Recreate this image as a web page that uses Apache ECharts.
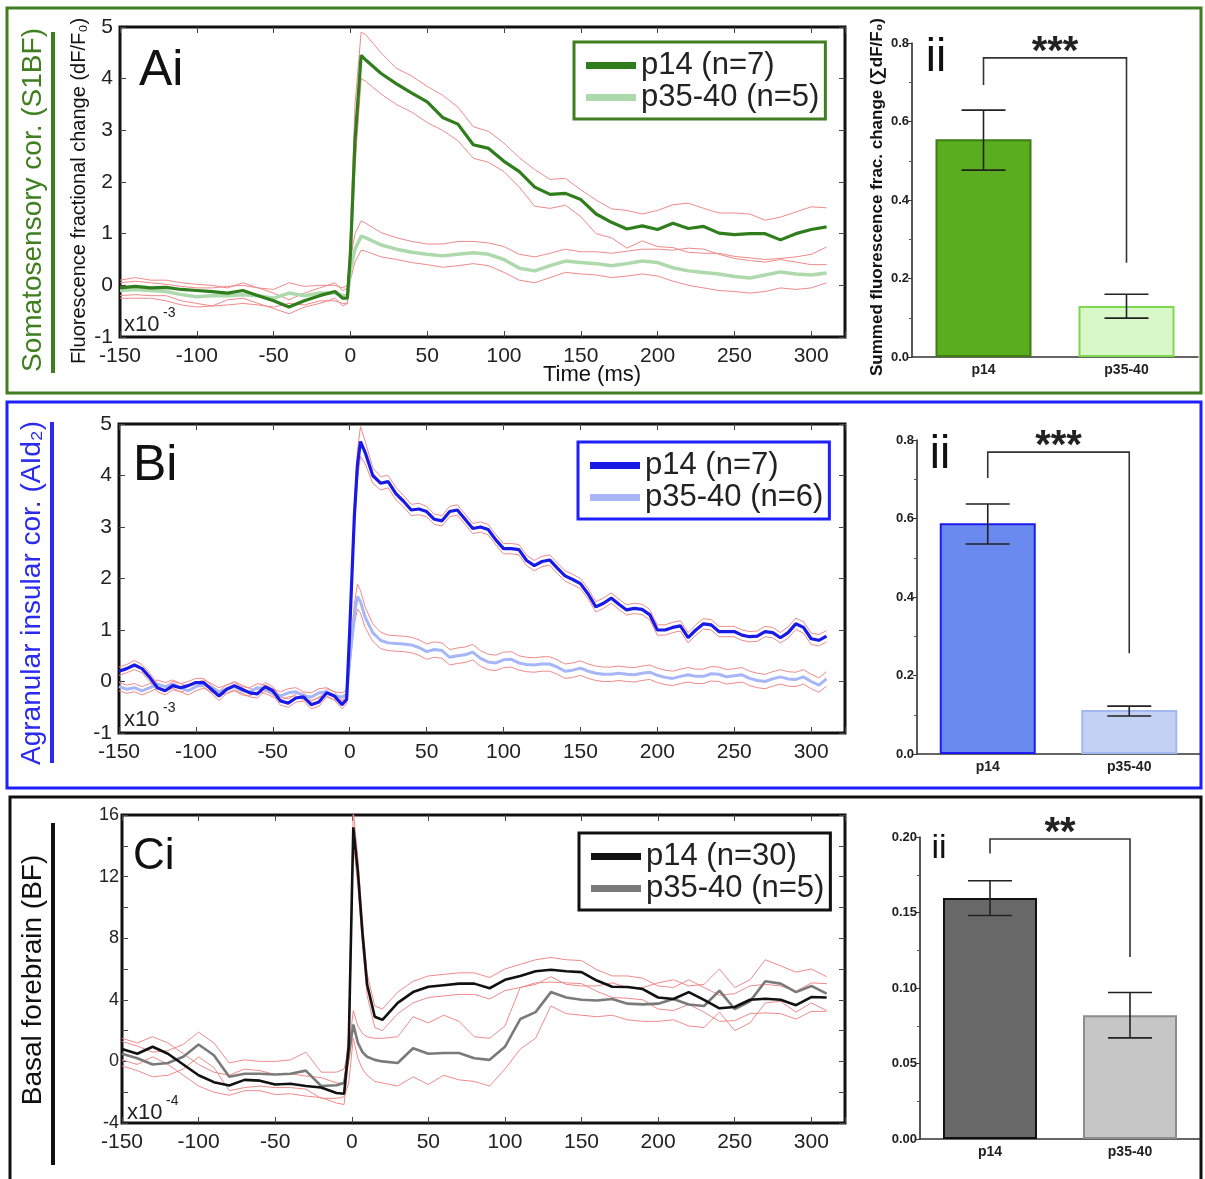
<!DOCTYPE html>
<html>
<head>
<meta charset="utf-8">
<script src="https://cdn.jsdelivr.net/npm/echarts@6.0.0/dist/echarts.min.js"></script>
<style>
html, body { margin: 0; padding: 0; background: #fff; }
#chart { width: 1205px; height: 1179px; }
</style>
</head>
<body>
<div id="chart"></div>
<script>
// ---- panel A (S1BF), sample times in ms ----
const tA = [-150,-140,-130,-120,-110,-100,-90,-80,-70,-60,-50,-40,-30,-20,-10,-5,-2,0,3,7,
  10,20,30,40,50,60,70,80,90,100,110,120,130,140,150,160,170,180,190,200,210,220,230,240,250,260,270,280,290,300,310];
const a14 = [-0.05,-0.02,-0.05,-0.04,-0.08,-0.1,-0.12,-0.15,-0.1,-0.2,-0.3,-0.42,-0.3,-0.2,-0.12,-0.25,-0.25,0.6,2.8,4.45,
  4.36,4.1,3.9,3.72,3.55,3.25,3.12,2.72,2.65,2.4,2.2,1.9,1.76,1.78,1.66,1.38,1.22,1.09,1.15,1.08,1.2,1.1,1.14,1.01,0.98,1.0,1.0,0.88,1.0,1.08,1.13];
const a14Hi = [0.1,0.15,0.1,0.1,0.05,0.02,0.0,-0.05,0.05,-0.05,-0.15,-0.28,-0.15,-0.05,0.05,-0.1,-0.05,1.0,3.5,4.9,
  4.85,4.5,4.2,4.05,3.85,3.68,3.45,3.07,2.98,2.75,2.47,2.24,2.05,2.07,1.85,1.65,1.48,1.45,1.38,1.45,1.56,1.59,1.49,1.4,1.4,1.38,1.26,1.32,1.42,1.52,1.5];
const a14Lo = [-0.2,-0.18,-0.2,-0.2,-0.3,-0.35,-0.4,-0.28,-0.25,-0.35,-0.45,-0.55,-0.42,-0.35,-0.25,-0.4,-0.35,0.3,2.3,4.0,
  3.95,3.7,3.5,3.35,3.15,3.0,2.8,2.46,2.38,2.2,1.9,1.53,1.49,1.55,1.33,1.0,0.92,0.72,0.86,0.75,0.73,0.64,0.62,0.62,0.56,0.53,0.5,0.52,0.55,0.6,0.74];
const a35 = [-0.1,-0.08,-0.1,-0.12,-0.18,-0.22,-0.2,-0.2,-0.18,-0.2,-0.25,-0.15,-0.2,-0.15,-0.15,-0.2,-0.2,0.3,0.7,0.95,
  0.92,0.78,0.7,0.64,0.6,0.57,0.6,0.63,0.6,0.5,0.33,0.28,0.38,0.47,0.44,0.42,0.38,0.42,0.47,0.44,0.34,0.28,0.25,0.22,0.17,0.14,0.2,0.26,0.22,0.2,0.24];
const a35Hi = [0.05,0.08,0.05,0.02,-0.02,-0.05,-0.05,-0.02,0.0,-0.05,-0.08,0.05,-0.02,0.0,0.0,-0.05,0.0,0.5,1.0,1.25,
  1.2,1.02,0.92,0.85,0.8,0.8,0.85,0.85,0.82,0.75,0.6,0.55,0.62,0.7,0.65,0.65,0.62,0.66,0.7,0.7,0.68,0.72,0.7,0.6,0.52,0.48,0.45,0.5,0.45,0.4,0.4];
const a35Lo = [-0.25,-0.25,-0.25,-0.3,-0.38,-0.42,-0.4,-0.38,-0.35,-0.38,-0.42,-0.35,-0.38,-0.3,-0.3,-0.35,-0.35,0.1,0.45,0.68,
  0.66,0.55,0.5,0.44,0.4,0.35,0.38,0.42,0.38,0.25,0.1,0.05,0.15,0.25,0.22,0.2,0.15,0.18,0.22,0.18,0.08,0.0,-0.05,-0.1,-0.12,-0.15,-0.12,-0.05,-0.08,-0.05,0.05];

// ---- panel B (AId2) ----
const tB = [-150,-145,-140,-135,-130,-125,-120,-115,-110,-105,-100,-95,-90,-85,-80,-75,-70,-65,-60,-55,-50,-45,-40,-35,-30,-25,-20,-15,-10,-5,
  -2,0,3,5,7,
  10,15,20,25,30,35,40,45,50,55,60,65,70,75,80,85,90,95,100,105,110,115,120,125,130,135,140,145,150,155,
  160,165,170,175,180,185,190,195,200,205,210,215,220,225,230,235,240,245,250,255,260,265,270,275,280,285,290,295,300,305,310];
const b14 = [0.2,0.25,0.32,0.25,0.08,-0.12,-0.18,-0.08,-0.12,-0.08,-0.02,-0.02,-0.15,-0.28,-0.15,-0.08,-0.15,-0.22,-0.24,-0.1,-0.18,-0.38,-0.42,-0.32,-0.3,-0.45,-0.4,-0.22,-0.28,-0.45,
  -0.35,1.0,3.2,4.2,4.66,
  4.45,4.0,3.85,3.88,3.65,3.5,3.33,3.35,3.3,3.15, 3.12,3.3,3.33,3.15,2.97,3.0,2.95,2.75,2.58,2.58,
  2.56,2.35,2.25,2.33,2.36,2.2,2.05,1.98,1.9,1.7, 1.45,1.52,1.62,1.5,1.39,1.42,1.4,1.3,1.0,1.0,
  1.05,1.08,0.85,1.0,1.12,1.1,0.97,0.97,0.97,0.9, 0.87,0.88,0.97,0.95,0.85,0.95,1.12,1.05,0.83,0.8, 0.88];
const b14Sem = [0.08,0.08,0.09,0.08,0.08,0.08,0.08,0.08,0.08,0.08,0.08,0.08,0.08,0.09,0.08,0.08,0.08,0.08,0.08,0.08,0.08,0.08,0.08,0.08,0.08,0.08,0.08,0.08,0.08,0.08,
  0.08,0.15,0.22,0.28,0.29,
  0.22,0.15,0.13,0.12,0.12,0.11,0.11,0.11,0.1,0.1, 0.1,0.1,0.1,0.1,0.1,0.1,0.1,0.1,0.1,0.1,
  0.1,0.1,0.1,0.1,0.1,0.1,0.1,0.1,0.1,0.1, 0.1,0.1,0.1,0.1,0.1,0.1,0.1,0.1,0.1,0.1,
  0.1,0.1,0.1,0.1,0.1,0.1,0.1,0.1,0.1,0.1, 0.1,0.1,0.1,0.1,0.1,0.11,0.11,0.11,0.11,0.11, 0.11];
const b35 = [-0.1,-0.15,-0.12,-0.18,-0.12,-0.05,-0.1,-0.05,-0.12,-0.18,-0.1,-0.05,-0.12,-0.2,-0.15,-0.1,-0.18,-0.2,-0.12,-0.15,-0.22,-0.28,-0.22,-0.2,-0.28,-0.3,-0.22,-0.2,-0.28,-0.3,
  -0.25,0.4,1.3,1.65,1.55,
  1.25,0.95,0.8,0.75,0.74,0.73,0.71,0.66,0.58,0.62, 0.6,0.47,0.5,0.52,0.57,0.45,0.38,0.36,0.42,0.43,
  0.36,0.33,0.32,0.34,0.34,0.28,0.2,0.22,0.26,0.2, 0.16,0.14,0.14,0.16,0.14,0.13,0.16,0.18,0.12,0.08,
  0.06,0.1,0.13,0.1,0.1,0.15,0.14,0.09,0.11,0.13, 0.06,0.02,0.0,0.05,0.09,0.05,0.04,0.09,0.0,-0.07, 0.05];
const b35Sem = [0.08,0.08,0.08,0.08,0.08,0.08,0.08,0.08,0.08,0.08,0.08,0.08,0.08,0.08,0.08,0.08,0.08,0.08,0.08,0.08,0.08,0.08,0.08,0.08,0.08,0.08,0.08,0.08,0.08,0.08,
  0.08,0.1,0.2,0.24,0.22,
  0.2,0.17,0.16,0.15,0.15,0.15,0.15,0.15,0.15,0.15, 0.15,0.15,0.15,0.15,0.15,0.15,0.15,0.15,0.15,0.15,
  0.14,0.14,0.14,0.14,0.14,0.14,0.14,0.14,0.14,0.14, 0.14,0.14,0.14,0.14,0.14,0.14,0.14,0.14,0.14,0.14,
  0.14,0.14,0.14,0.14,0.14,0.14,0.14,0.14,0.14,0.14, 0.14,0.14,0.14,0.14,0.14,0.14,0.14,0.14,0.14,0.14, 0.14];

// ---- panel C (BF) ----
const tC = [-150,-140,-130,-120,-110,-100,-90,-80,-70,-60,-50,-40,-30,-20,-10,-5,-2,1,4,7,10,15,
  20,30,40,50,60,70,80,90,100,110,120,130,140,150,160,170,180,190,200,210,220,230,240,250,260,270,280,290,300,310];
const c14 = [0.8,0.5,0.95,0.5,-0.2,-0.9,-1.35,-1.56,-1.2,-1.25,-1.5,-1.45,-1.6,-1.7,-2.05,-2.1,1.0,15.2,12.3,8.3,5.0,2.9,
  2.7,3.8,4.5,4.85,4.95,5.05,5.05,4.75,5.3,5.55,5.85,5.95,5.85,5.8,5.25,4.85,4.83,4.7,4.15,4.05,4.5,4.0,3.45,3.53,4.0,4.07,4.0,3.65,4.18,4.15];
const c14Hi = [1.5,1.2,1.6,1.2,0.5,-0.2,-0.7,-0.9,-0.5,-0.6,-0.85,-0.8,-0.95,-1.05,-1.4,-1.4,1.8,16.3,13.2,9.1,5.7,3.6,
  3.4,4.5,5.2,5.55,5.65,5.75,5.75,5.45,6.0,6.3,6.6,6.75,6.6,6.55,5.95,5.55,5.55,5.4,4.9,4.8,5.3,4.8,4.3,4.4,4.9,5.0,4.9,4.55,5.1,5.05];
const c14Lo = [0.1,-0.2,0.3,-0.2,-0.9,-1.6,-2.0,-2.2,-1.9,-1.9,-2.15,-2.1,-2.25,-2.35,-2.7,-2.8,0.2,14.2,11.4,7.5,4.3,2.2,
  2.0,3.1,3.8,4.15,4.25,4.35,4.35,4.05,4.6,4.8,5.1,5.15,5.1,5.05,4.55,4.15,4.1,4.0,3.4,3.3,3.7,3.2,2.6,2.65,3.1,3.15,3.1,2.75,3.25,3.25];
const c35 = [0.5,0.2,-0.2,-0.1,0.3,1.1,0.4,-1.0,-0.8,-0.8,-0.85,-0.8,-0.6,-1.6,-1.55,-1.4,0.3,2.4,1.2,0.6,0.3,0.1,
  0.0,-0.1,0.85,0.5,0.55,0.55,0.2,0.1,0.95,2.75,3.2,4.5,4.15,4.0,3.95,4.05,3.75,3.7,3.75,4.05,3.7,3.6,4.6,3.4,3.9,5.2,5.05,4.5,4.9,4.4];
const c35Hi = [1.3,1.0,0.6,0.7,1.1,1.9,1.2,-0.1,0.1,0.0,0.0,0.1,0.6,-0.7,-0.7,-0.5,0.8,3.3,2.3,1.8,1.6,1.5,
  1.5,1.6,2.9,2.5,3.0,2.6,1.6,1.5,2.3,4.8,5.0,5.5,5.0,4.9,4.9,5.1,4.8,4.8,5.1,5.3,4.9,5.0,6.0,4.8,5.3,6.6,6.2,5.8,6.0,5.5];
const c35Lo = [-0.3,-0.6,-1.0,-0.9,-0.5,0.3,-0.4,-1.9,-1.7,-1.6,-1.7,-1.7,-1.8,-2.4,-2.4,-2.3,-1.4,1.5,0.2,-0.5,-0.9,-1.3,
  -1.4,-1.6,-1.0,-1.5,-0.9,-1.2,-1.3,-1.6,-0.5,0.8,1.5,3.6,3.1,3.0,2.9,3.0,2.7,2.6,2.6,2.7,2.3,2.2,3.2,2.0,2.5,3.8,3.9,3.2,3.8,3.3];

// ---- bar panels (ii) ----
const groups = ['p14', 'p35-40'];
const barA = [0.555, 0.130], errLoA = [0.476, 0.099], errHiA = [0.629, 0.160];
const barB = [0.588, 0.112], errLoB = [0.535, 0.097], errHiB = [0.637, 0.122];
const barC = [0.1596, 0.082], errLoC = [0.148, 0.067], errHiC = [0.171, 0.097];
// significance brackets: left foot, top, right foot
const brkA = [0.693, 0.762, 0.24], brkB = [0.703, 0.769, 0.257], brkC = [0.189, 0.1987, 0.1205];
const starsA = '***', starsB = '***', starsC = '**';

const legendText = {
  a14: 'p14 (n=7)', a35: 'p35-40 (n=5)',
  b14: 'p14 (n=7)', b35: 'p35-40 (n=6)',
  c14: 'p14 (n=30)', c35: 'p35-40 (n=5)'
};

const FONT = '"Liberation Sans", Arial, sans-serif';
const NARROW = '"Liberation Sans Narrow", "Liberation Sans", Arial, sans-serif';

function pairs(t, v) { return t.map((x, i) => [x, v[i]]); }
function plusSem(v, s, k) { return v.map((x, i) => +(x + k * s[i]).toFixed(3)); }

function line(name, ax, t, v, color, width, z) {
  return {
    type: 'line', name: name, xAxisIndex: ax, yAxisIndex: ax,
    data: pairs(t, v), showSymbol: false, symbol: 'none', silent: true, z: z,
    lineStyle: { color: color, width: width }, itemStyle: { color: color }
  };
}

function lineAxes(gi, ymin, ymax, yint, every, yFont, yMargin, xMargin) {
  const tick = { inside: true, length: 6, lineStyle: { color: '#444', width: 1 } };
  const xb = {
    type: 'value', gridIndex: gi, min: -150, max: 322, interval: 50, position: 'bottom',
    axisLine: { show: false, onZero: false }, axisTick: tick, splitLine: { show: false },
    axisLabel: { fontSize: 21, color: '#222', fontFamily: FONT, margin: xMargin,
      formatter: v => (v % 50 === 0 ? String(v) : '') }
  };
  const xt = Object.assign({}, xb, { position: 'top', axisLabel: { show: false } });
  const yl = {
    type: 'value', gridIndex: gi, min: ymin, max: ymax, interval: yint, position: 'left',
    axisLine: { show: false, onZero: false }, axisTick: tick, splitLine: { show: false },
    axisLabel: { fontSize: yFont, color: '#222', fontFamily: FONT, margin: yMargin,
      formatter: v => (v % every === 0 ? String(v) : '') }
  };
  const yr = Object.assign({}, yl, { position: 'right', axisLabel: { show: false } });
  return { x: [xb, xt], y: [yl, yr] };
}

function barAxes(gi, max, step, digits) {
  return {
    x: {
      type: 'category', gridIndex: gi, data: groups,
      axisLine: { onZero: false, lineStyle: { color: '#333', width: 1.5 } },
      axisTick: { alignWithLabel: true, length: 4, lineStyle: { color: '#333' } },
      axisLabel: { fontSize: 14, fontWeight: 'bold', color: '#222', fontFamily: NARROW, margin: 6 }
    },
    y: {
      type: 'value', gridIndex: gi, min: 0, max: max, interval: step,
      axisLine: { show: true, onZero: false, lineStyle: { color: '#222', width: 1.5 } },
      axisTick: { show: true, length: 4, lineStyle: { color: '#333' } },
      minorTick: { show: true, splitNumber: 2, length: 3, lineStyle: { color: '#555' } },
      splitLine: { show: false },
      axisLabel: { fontSize: 13, fontWeight: 'bold', color: '#222', fontFamily: NARROW, margin: 3,
        formatter: v => v.toFixed(digits) }
    }
  };
}

function bars(ax, vals, fills, borders, width) {
  return {
    type: 'bar', xAxisIndex: ax, yAxisIndex: ax, barWidth: width, silent: true,
    data: vals.map((v, i) => ({ value: v, itemStyle: { color: fills[i], borderColor: borders[i], borderWidth: 2 } }))
  };
}

function errBars(ax, lo, hi) {
  return {
    type: 'custom', xAxisIndex: ax, yAxisIndex: ax, silent: true, z: 5,
    data: lo.map((l, i) => [i, l, hi[i]]),
    renderItem: (params, api) => {
      const pLo = api.coord([api.value(0), api.value(1)]);
      const pHi = api.coord([api.value(0), api.value(2)]);
      const hw = 22, st = { stroke: '#222', lineWidth: 1.6 };
      return { type: 'group', children: [
        { type: 'line', shape: { x1: pLo[0], y1: pLo[1], x2: pHi[0], y2: pHi[1] }, style: st },
        { type: 'line', shape: { x1: pHi[0] - hw, y1: pHi[1], x2: pHi[0] + hw, y2: pHi[1] }, style: st },
        { type: 'line', shape: { x1: pLo[0] - hw, y1: pLo[1], x2: pLo[0] + hw, y2: pLo[1] }, style: st }
      ] };
    }
  };
}

function bracket(ax, b, stars) {
  return {
    type: 'custom', xAxisIndex: ax, yAxisIndex: ax, silent: true, z: 5, clip: false,
    data: [[0, b[0], b[1], b[2]]],
    renderItem: (params, api) => {
      const l = api.coord([0, api.value(1)]);
      const tl = api.coord([0, api.value(2)]);
      const tr = api.coord([1, api.value(2)]);
      const r = api.coord([1, api.value(3)]);
      return { type: 'group', children: [
        { type: 'polyline', shape: { points: [l, tl, tr, r] }, style: { stroke: '#333', lineWidth: 1.6, fill: null } },
        { type: 'text', x: (tl[0] + tr[0]) / 2, y: tl[1] - 5,
          style: { text: stars, font: 'bold 40px ' + FONT, fill: '#222', textAlign: 'center', textVerticalAlign: 'middle', align: 'center', verticalAlign: 'middle' } }
      ] };
    }
  };
}

function legendBox(left, top, names, border) {
  return {
    orient: 'vertical', left: left, top: top, data: names, selectedMode: false,
    icon: 'rect', itemWidth: 50, itemHeight: 7, itemGap: 1,
    padding: [8, 6, 6, 12], borderColor: border, borderWidth: 3, backgroundColor: '#fff',
    textStyle: { fontSize: 31, color: '#222', fontFamily: FONT },
    formatter: n => legendText[n]
  };
}

function txt(x, y, text, font, fill, rot, align, valign) {
  const a = align || 'center', va = valign || 'middle';
  return { type: 'text', x: x, y: y, rotation: rot || 0, z: 10,
    style: { text: text, font: font, fill: fill || '#111', textAlign: a, textVerticalAlign: va, align: a, verticalAlign: va } };
}

const axA = lineAxes(0, -1, 5, 1, 1, 21, 7, 9);
const axB = lineAxes(1, -1, 5, 1, 1, 21, 7, 9);
const axC = lineAxes(2, -4, 16, 2, 4, 18, 3, 9);
const bA = barAxes(3, 0.8, 0.2, 1);
const bB = barAxes(4, 0.8, 0.2, 1);
const bC = barAxes(5, 0.2, 0.05, 2);

const BND = '#ef8a8a';

const option = {
  animation: false,
  backgroundColor: '#fff',
  grid: [
    { left: 120, right: 360, top: 27, bottom: 842, show: true, borderColor: '#111', borderWidth: 3 },
    { left: 119, right: 360, top: 424, bottom: 446, show: true, borderColor: '#111', borderWidth: 3 },
    { left: 122, right: 360, top: 815, bottom: 56, show: true, borderColor: '#111', borderWidth: 3 },
    { left: 912, right: 7, top: 43, bottom: 822 },
    { left: 917, right: 5, top: 440, bottom: 425 },
    { left: 920, right: 5, top: 837, bottom: 40 }
  ],
  // axis order: A bottom/top, B bottom/top, C bottom/top, then bars A, B, C
  xAxis: [axA.x[0], axA.x[1], axB.x[0], axB.x[1], axC.x[0], axC.x[1], bA.x, bB.x, bC.x],
  yAxis: [axA.y[0], axA.y[1], axB.y[0], axB.y[1], axC.y[0], axC.y[1], bA.y, bB.y, bC.y],
  legend: [
    legendBox(574, 42, ['a14', 'a35'], '#3f7f1f'),
    legendBox(578, 442, ['b14', 'b35'], '#1e1eff'),
    legendBox(579, 833, ['c14', 'c35'], '#111')
  ],
  series: [
    line('a14hi', 0, tA, a14Hi, BND, 1, 2),
    line('a14lo', 0, tA, a14Lo, BND, 1, 2),
    line('a35hi', 0, tA, a35Hi, BND, 1, 2),
    line('a35lo', 0, tA, a35Lo, BND, 1, 2),
    line('a35', 0, tA, a35, '#add9ad', 3.5, 3),
    line('a14', 0, tA, a14, '#2f7d1c', 3.2, 4),

    line('b14hi', 2, tB, plusSem(b14, b14Sem, 1), BND, 1, 2),
    line('b14lo', 2, tB, plusSem(b14, b14Sem, -1), BND, 1, 2),
    line('b35hi', 2, tB, plusSem(b35, b35Sem, 1), BND, 1, 2),
    line('b35lo', 2, tB, plusSem(b35, b35Sem, -1), BND, 1, 2),
    line('b35', 2, tB, b35, '#a6b6f7', 3, 3),
    line('b14', 2, tB, b14, '#1a1ae6', 3.2, 4),

    line('c14hi', 4, tC, c14Hi, BND, 1, 2),
    line('c14lo', 4, tC, c14Lo, BND, 1, 2),
    line('c35hi', 4, tC, c35Hi, BND, 1, 2),
    line('c35lo', 4, tC, c35Lo, BND, 1, 2),
    line('c35', 4, tC, c35, '#7a7a7a', 2.6, 3),
    line('c14', 4, tC, c14, '#111111', 2.6, 4),

    bars(6, barA, ['#5aad1e', '#d9f8c9'], ['#3d7d14', '#7fd94f'], 96),
    errBars(6, errLoA, errHiA),
    bracket(6, brkA, starsA),
    bars(7, barB, ['#6a8af0', '#c3d2f4'], ['#1c1cf0', '#a2b8ee'], 96),
    errBars(7, errLoB, errHiB),
    bracket(7, brkB, starsB),
    bars(8, barC, ['#686868', '#c6c6c6'], ['#111111', '#8c8c8c'], 94),
    errBars(8, errLoC, errHiC),
    bracket(8, brkC, starsC)
  ],
  graphic: [
    // panel frames
    { type: 'rect', shape: { x: 7, y: 8, width: 1194, height: 385 }, style: { fill: null, stroke: '#3f7f1f', lineWidth: 3 } },
    { type: 'rect', shape: { x: 7, y: 402, width: 1194, height: 386 }, style: { fill: null, stroke: '#1e1eff', lineWidth: 3 } },
    { type: 'rect', shape: { x: 10, y: 797, width: 1191, height: 400 }, style: { fill: null, stroke: '#111', lineWidth: 3 } },
    // region labels with bars
    txt(33, 200, 'Somatosensory cor. (S1BF)', '28px ' + FONT, '#3f7f1f', Math.PI / 2),
    { type: 'rect', shape: { x: 51, y: 32, width: 4, height: 341 }, style: { fill: '#3f7f1f' } },
    txt(32, 593, 'Agranular insular cor. (AId\u2082)', '28px ' + FONT, '#2a2af0', Math.PI / 2),
    { type: 'rect', shape: { x: 50, y: 422, width: 4, height: 341 }, style: { fill: '#2a2af0' } },
    txt(33, 980, 'Basal forebrain (BF)', '28px ' + FONT, '#111', Math.PI / 2),
    { type: 'rect', shape: { x: 51, y: 823, width: 4, height: 342 }, style: { fill: '#111' } },
    // axis titles
    txt(79, 191, 'Fluorescence fractional change (dF/F\u2080)', '20px ' + FONT, '#111', Math.PI / 2),
    txt(592, 375, 'Time (ms)', '22px ' + FONT, '#111'),
    txt(877, 197, 'Summed fluorescence frac. change (\u2211dF/F\u2080)', 'bold 17px ' + NARROW, '#111', Math.PI / 2),
    // panel letters
    txt(139, 71, 'Ai', '50px ' + FONT, '#111', 0, 'left'),
    txt(133, 466, 'Bi', '50px ' + FONT, '#111', 0, 'left'),
    txt(133, 857, 'Ci', '44px ' + FONT, '#111', 0, 'left'),
    txt(936, 58, 'ii', '46px ' + FONT, '#111'),
    txt(940, 455, 'ii', '46px ' + FONT, '#111'),
    txt(939, 849, 'ii', '34px ' + FONT, '#111'),
    // axis multipliers
    txt(124, 325, 'x10', '22px ' + FONT, '#222', 0, 'left'),
    txt(163, 313, '-3', '14px ' + FONT, '#222', 0, 'left'),
    txt(124, 720, 'x10', '22px ' + FONT, '#222', 0, 'left'),
    txt(163, 708, '-3', '14px ' + FONT, '#222', 0, 'left'),
    txt(127, 1113, 'x10', '22px ' + FONT, '#222', 0, 'left'),
    txt(166, 1101, '-4', '14px ' + FONT, '#222', 0, 'left')
  ]
};

const chart = echarts.init(document.getElementById('chart'));
chart.setOption(option);
</script>
</body>
</html>
